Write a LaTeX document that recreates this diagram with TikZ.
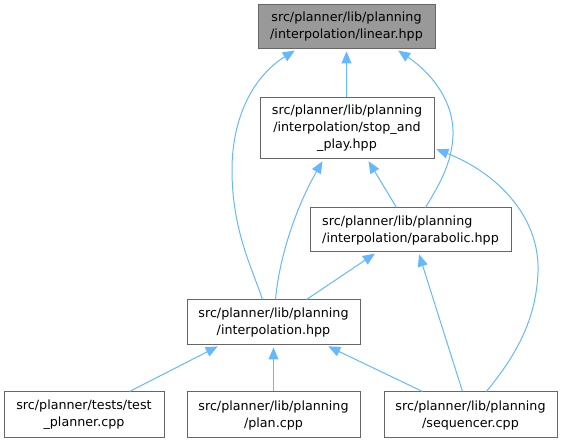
\documentclass[tikz,border=0pt]{standalone}
\usepackage{fontspec}
\setmainfont{DejaVu Sans}
\usetikzlibrary{arrows.meta,calc}
\definecolor{edgeblue}{HTML}{63B8FF}
\definecolor{nodeborder}{HTML}{666666}
\definecolor{nodefill}{HTML}{999999}
\tikzset{
  filebox/.style={draw=nodeborder, line width=1pt, rectangle, inner sep=0pt, align=center, font=\fontsize{12.7}{17}\selectfont},
  edge/.style={draw=edgeblue, line width=1pt, {Triangle[length=12pt,width=10pt]}-, shorten <=2pt}
}
\begin{document}
\begin{tikzpicture}[x=1pt,y=-1pt]
\useasboundingbox (0,0) rectangle (563,443);
\node[filebox, fill=nodefill, minimum width=177pt, minimum height=44pt] (linear) at (346.5,27) {src/planner/lib/planning\\/interpolation/linear.hpp};
\node[filebox, minimum width=174pt, minimum height=61pt] (stop) at (347,128.5) {src/planner/lib/planning\\/interpolation/stop\_and\\\_play.hpp};
\node[filebox, align=left, minimum width=201pt, minimum height=44pt] (parab) at (410.5,230) {src/planner/lib/planning\\/interpolation/parabolic.hpp};
\node[filebox, minimum width=173pt, minimum height=45pt] (interp) at (273.5,322.5) {src/planner/lib/planning\\/interpolation.hpp};
\node[filebox, minimum width=160pt, minimum height=46pt] (test) at (84,415) {src/planner/tests/test\\\_planner.cpp};
\node[filebox, minimum width=173pt, minimum height=46pt] (plan) at (273.5,415) {src/planner/lib/planning\\/plan.cpp};
\node[filebox, minimum width=173pt, minimum height=46pt] (seq) at (470.5,415) {src/planner/lib/planning\\/sequencer.cpp};

% edges
\draw[edge] ($(linear.south west)+(39,0)$) .. controls (255,75) and (232,115) .. (232,170) .. controls (232,230) and (252,268) .. ($(interp.north west)+(76,0)$);
\draw[edge] (linear.south) -- (linear.south |- stop.north);
\draw[edge] ($(linear.south west)+(139,0)$) .. controls (430,72) and (454,100) .. (453,135) .. controls (452,165) and (437,188) .. ($(parab.north west)+(116,0)$);
\draw[edge] ($(stop.south west)+(64,0)$) .. controls (300,200) and (280,250) .. ($(interp.north west)+(89,0)$);
\draw[edge] ($(stop.south west)+(108,0)$) -- ($(parab.north west)+(87,0)$);
\draw[edge] ($(stop.south east)+(0,-11)$) .. controls (495,172) and (540,215) .. (538,272) .. controls (536,330) and (505,368) .. ($(seq.north west)+(103,0)$);
\draw[edge] ($(parab.south west)+(67,0)$) -- ($(interp.north west)+(120,0)$);
\draw[edge] ($(parab.south west)+(109,0)$) -- ($(seq.north west)+(79,0)$);
\draw[edge] ($(interp.south west)+(33,0)$) -- ($(test.north west)+(126,0)$);
\draw[edge] (interp.south) -- (plan.north);
\draw[edge] ($(interp.south west)+(140,0)$) -- ($(seq.north west)+(39,0)$);
\end{tikzpicture}
\end{document}
